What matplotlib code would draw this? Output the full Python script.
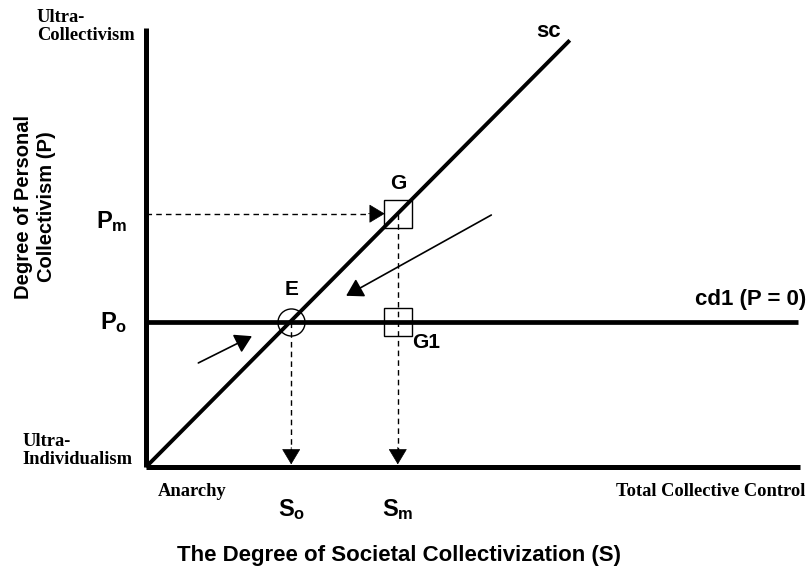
import numpy as np
import matplotlib
matplotlib.use('Agg')
from matplotlib import pyplot as plt

plt.rcParams['mathtext.fontset'] = 'custom'
plt.rcParams['mathtext.bf'] = 'Liberation Sans:bold'
plt.rcParams['mathtext.rm'] = 'Liberation Sans:bold'

# diagram values (S and P on a 0-100 scale)
S_o, S_m = 22.2, 38.5
P_o, P_m = 33.0, 57.7
sc_S = [0, 64.8]
sc_P = [0, 97.2]
cd1_S = [0, 99.7]
cd1_P = [P_o, P_o]
pull_from, pull_to = (52.8, 57.4), (30.6, 39.0)
push_from, push_to = (8.0, 23.7), (16.2, 29.8)
G_box_left = 36.5

serif = 'Liberation Serif'
sans = 'Liberation Sans'

fig = plt.figure(figsize=(8.09, 5.72), dpi=100)
ax = fig.add_axes([146/809, 1 - 467/572, 654/809, 439/572])
ax.set_xlim(0, 100)
ax.set_ylim(0, 100)
ax.axis('off')

# axes
ax.plot([0, 0], [0, 100], color='k', lw=3.6, clip_on=False, solid_capstyle='butt')
ax.plot([0, 100], [0, 0], color='k', lw=3.6, clip_on=False, solid_capstyle='butt')

# sc and cd1 lines
ax.plot(sc_S, sc_P, color='k', lw=2.8, clip_on=False, solid_capstyle='butt')
ax.plot(cd1_S, cd1_P, color='k', lw=3.4, clip_on=False, solid_capstyle='butt')

# dashed guides
dash = dict(color='k', lw=1.0, ls=(0, (4, 3)), clip_on=False)
ax.plot([0, G_box_left - 2.0], [P_m, P_m], **dash)
ax.plot([S_o, S_o], [P_o, 3.0], **dash)
ax.plot([S_m, S_m], [P_m, 3.0], **dash)

head = dict(arrowstyle='-|>,head_length=0.6,head_width=0.36', color='k', lw=0.5,
            mutation_scale=17, shrinkA=0, shrinkB=0)
ax.annotate('', xy=(G_box_left, P_m), xytext=(G_box_left - 2.5, P_m), arrowprops=head)
ax.annotate('', xy=(S_o, 0.6), xytext=(S_o, 4.5), arrowprops=head)
ax.annotate('', xy=(S_m, 0.6), xytext=(S_m, 4.5), arrowprops=head)

# adjustment arrows
thin = dict(arrowstyle='-|>,head_length=0.6,head_width=0.36', color='k', lw=1.2,
            mutation_scale=17, shrinkA=0, shrinkB=0)
ax.annotate('', xy=pull_to, xytext=pull_from, arrowprops=thin)
ax.annotate('', xy=push_to, xytext=push_from, arrowprops=thin)

# points
ax.plot([S_o], [P_o], marker='o', ms=19.5, mfc='none', mec='k', mew=1.0, clip_on=False)
ax.plot([S_m, S_m], [P_m, P_o], ls='none', marker='s', ms=19.5, mfc='none', mec='k',
        mew=1.0, clip_on=False)

# point labels
big = dict(fontfamily=sans, fontweight='bold', clip_on=False)
ax.text(S_m, P_m + 6.8, 'G', fontsize=15, ha='center', va='center', **big)
ax.text(S_o, P_o + 7.5, 'E', fontsize=15, ha='center', va='center', **big)
ax.text(S_m + 2.2, P_o - 4.6, 'G1', fontsize=15, ha='left', va='center', **big)
ax.text(61.6, 99.2, 'sc', fontsize=16, ha='center', va='center', **big)
ax.text(100.9, P_o + 5.2, 'cd1 (P = 0)', fontsize=16, ha='right', va='center', **big)

# tick-like labels
ax.text(-2.8, P_m - 1.8, r'$\mathbf{P_m}$', fontsize=17, ha='right', va='center', clip_on=False)
ax.text(-2.8, P_o - 0.2, r'$\mathbf{P_o}$', fontsize=17, ha='right', va='center', clip_on=False)
ax.text(S_o, -9.8, r'$\mathbf{S_o}$', fontsize=17, ha='center', va='center', clip_on=False)
ax.text(S_m, -9.8, r'$\mathbf{S_m}$', fontsize=17, ha='center', va='center', clip_on=False)

# extreme labels
times = dict(fontfamily=serif, fontweight='bold', fontsize=13.3, clip_on=False)
ax.text(-16.7, 104.3, 'Ultra-\nCollectivism', ha='left', va='top', linespacing=1.05, **times)
ax.text(-18.9, 7.7, 'Ultra-\nIndividualism', ha='left', va='top', linespacing=1.05, **times)
ax.text(1.8, -5.5, 'Anarchy', ha='left', va='center', **times)
ax.text(100.8, -5.5, 'Total Collective Control', ha='right', va='center', **times)

# axis titles
fig.text(399/809, 1 - 555/572, 'The Degree of Societal Collectivization (S)',
         fontfamily=sans, fontweight='bold', fontsize=16, ha='center', va='center')
fig.text(35/809, 1 - 207/572, 'Degree of Personal\nCollectivism (P)',
         fontfamily=sans, fontweight='bold', fontsize=14.5, ha='center', va='center',
         rotation=90, linespacing=1.25)

fig.savefig('out.png', dpi=100)
